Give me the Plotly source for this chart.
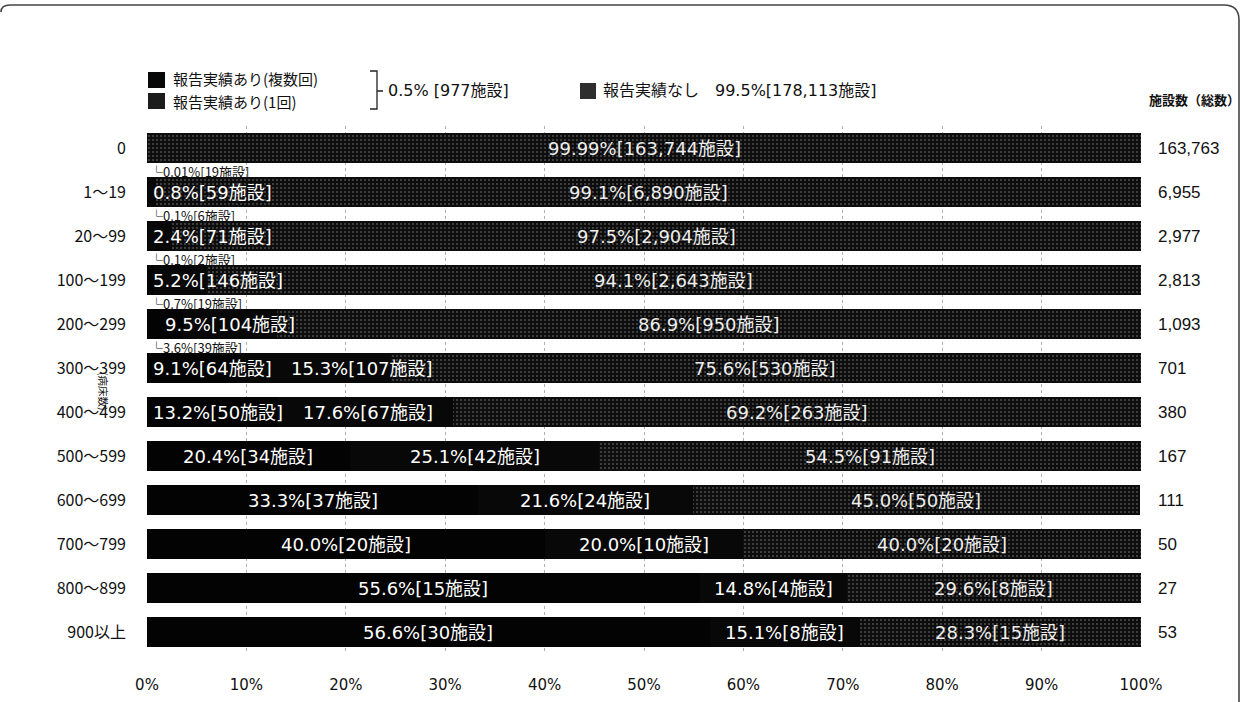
import plotly.graph_objects as go

# ---------------- data ----------------
categories = ["0", "1～19", "20～99", "100～199", "200～299", "300～399",
              "400～499", "500～599", "600～699", "700～799", "800～899", "900以上"]
multi_pct = [0.01, 0.1, 0.1, 0.7, 3.6, 9.1, 13.2, 20.4, 33.3, 40.0, 55.6, 56.6]
multi_n = [19, 6, 2, 19, 39, 64, 50, 34, 37, 20, 15, 30]
once_pct = [0, 0.8, 2.4, 5.2, 9.5, 15.3, 17.6, 25.1, 21.6, 20.0, 14.8, 15.1]
once_n = [0, 59, 71, 146, 104, 107, 67, 42, 24, 10, 4, 8]
none_pct = [99.99, 99.1, 97.5, 94.1, 86.9, 75.6, 69.2, 54.5, 45.0, 40.0, 29.6, 28.3]
none_n = [163744, 6890, 2904, 2643, 950, 530, 263, 91, 50, 20, 8, 15]
totals = [163763, 6955, 2977, 2813, 1093, 701, 380, 167, 111, 50, 27, 53]
x_ticks = [0, 10, 20, 30, 40, 50, 60, 70, 80, 90, 100]

# ---------------- geometry ----------------
W, H = 1242, 702
L, R, T, B = 147, 1141, 126, 654
PW, PH = R - L, B - T
FONT = "Noto Sans CJK JP"
MIX = "DejaVu Sans, Noto Sans CJK JP"


def PX(x):
    return (x - L) / PW


def PY(y):
    return (B - y) / PH


def fmt_pct(p):
    return ("%.2f" % p) if p < 0.1 or p == 99.99 else ("%.1f" % p)


def lab(p, n):
    return f"{fmt_pct(p)}%[{n:,}施設]"


def text_w(s, fs):
    w = 0
    for c in s:
        if ord(c) > 0x2000:
            w += fs
        elif c in ".,":
            w += 0.318 * fs
        elif c == "%":
            w += 0.95 * fs
        elif c in "[]":
            w += 0.39 * fs
        else:
            w += 0.636 * fs
    return w


fig = go.Figure()
fig.add_trace(go.Bar(y=categories, x=multi_pct, orientation="h", name="報告実績あり(複数回)",
                     marker=dict(color="#030303", line=dict(width=0))))
fig.add_trace(go.Bar(y=categories, x=once_pct, orientation="h", name="報告実績あり(1回)",
                     marker=dict(color="#080808", line=dict(width=0))))
fig.add_trace(go.Bar(y=categories, x=none_pct, orientation="h", name="報告実績なし",
                     marker=dict(color="#0d0d0d", line=dict(width=0),
                                 pattern=dict(shape=".", fgcolor="#9a9a9a", size=4, solidity=0.16))))

ann = []
FS = 18
for i, c in enumerate(categories):
    labels = []
    start = 0.0
    if multi_pct[i] < 5:
        ann.append(dict(x=0, y=c, xref="x", yref="y", text=f"└{lab(multi_pct[i], multi_n[i])}",
                        showarrow=False, xanchor="left", yanchor="middle", xshift=1, yshift=-23,
                        font=dict(family=FONT, size=13, color="#111")))
    else:
        labels.append((lab(multi_pct[i], multi_n[i]), start + multi_pct[i] / 2))
    start += multi_pct[i]
    if once_n[i] > 0:
        labels.append((lab(once_pct[i], once_n[i]), start + once_pct[i] / 2))
    start += once_pct[i]
    prev_right = None
    for txt, cx in labels:
        w = text_w(txt, FS)
        cpx = L + cx / 100 * PW
        bound = (L + 6) if prev_right is None else (prev_right + 20)
        left = max(cpx - w / 2, bound)
        prev_right = left + w
        ann.append(dict(x=(left + w / 2 - L) / PW * 100, y=c, xref="x", yref="y", text=txt,
                        showarrow=False, xanchor="center", yanchor="middle",
                        font=dict(family=MIX, size=FS, color="white")))
    ann.append(dict(x=start + none_pct[i] / 2, y=c, xref="x", yref="y",
                    text=lab(none_pct[i], none_n[i]), showarrow=False,
                    xanchor="center", yanchor="middle",
                    font=dict(family=MIX, size=FS, color="#eeeeee")))
    ann.append(dict(x=PX(1156), y=c, xref="paper", yref="y", text=f"{totals[i]:,}",
                    showarrow=False, xanchor="left", yanchor="middle",
                    font=dict(family="Liberation Sans", size=17, color="#111")))

# header / legend texts
ann += [
    dict(x=PX(1147), y=PY(99), xref="paper", yref="paper", text="<b>施設数（総数）</b>", showarrow=False,
         xanchor="left", yanchor="middle", font=dict(family=FONT, size=13, color="#111")),
    dict(x=PX(171), y=PY(79), xref="paper", yref="paper", text="報告実績あり(複数回)", showarrow=False,
         xanchor="left", yanchor="middle", font=dict(family=FONT, size=15, color="#111")),
    dict(x=PX(171), y=PY(101), xref="paper", yref="paper", text="報告実績あり(1回)", showarrow=False,
         xanchor="left", yanchor="middle", font=dict(family=FONT, size=15, color="#111")),
    dict(x=PX(386), y=PY(91), xref="paper", yref="paper", text="0.5% [977施設]", showarrow=False,
         xanchor="left", yanchor="middle", font=dict(family=MIX, size=16, color="#111")),
    dict(x=PX(601), y=PY(91), xref="paper", yref="paper", text="報告実績なし　99.5%[178,113施設]",
         showarrow=False, xanchor="left", yanchor="middle",
         font=dict(family=MIX, size=16, color="#111")),
    dict(x=PX(104), y=PY(391), xref="paper", yref="paper", text="(病床数)", showarrow=False,
         textangle=90, xanchor="center", yanchor="middle",
         font=dict(family=FONT, size=10.5, color="#111")),
]

shapes = [
    dict(type="rect", xref="paper", yref="paper", x0=PX(148), x1=PX(165), y0=PY(72), y1=PY(88),
         fillcolor="#080808", line=dict(width=0)),
    dict(type="rect", xref="paper", yref="paper", x0=PX(148), x1=PX(165), y0=PY(93), y1=PY(109),
         fillcolor="#1c1c1c", line=dict(width=0)),
    dict(type="rect", xref="paper", yref="paper", x0=PX(580), x1=PX(596), y0=PY(83), y1=PY(99),
         fillcolor="#2e2e2e", line=dict(width=0)),
    dict(type="path", xref="paper", yref="paper",
         path=(f"M {PX(370)},{PY(71)} L {PX(377)},{PY(71)} L {PX(377)},{PY(109)} L {PX(370)},{PY(109)} "
               f"M {PX(377)},{PY(91)} L {PX(383)},{PY(91)}"),
         line=dict(color="#222", width=1.3)),
    dict(type="path", xref="paper", yref="paper",
         path=(f"M {PX(1)},{PY(12)} Q {PX(1)},{PY(5)} {PX(10)},{PY(5)} L {PX(1224)},{PY(5)} "
               f"Q {PX(1239)},{PY(5)} {PX(1239)},{PY(20)} L {PX(1239)},{PY(702)}"),
         line=dict(color="#444", width=1.6)),
]

fig.update_layout(
    width=W, height=H,
    margin=dict(l=L, r=W - R, t=T, b=H - B),
    barmode="stack", bargap=0.32,
    showlegend=False,
    paper_bgcolor="white", plot_bgcolor="white",
    font=dict(family=FONT, color="#111"),
    annotations=ann, shapes=shapes,
    xaxis=dict(range=[0, 100], autorange=False, automargin=False,
               tickvals=x_ticks, ticktext=[f"{v}%" for v in x_ticks],
               showgrid=True, gridcolor="#b0b0b0", griddash="dot", gridwidth=1,
               zeroline=False, showline=False, ticks="", ticklabelstandoff=20,
               tickfont=dict(family="DejaVu Sans", size=15, color="#111")),
    yaxis=dict(categoryorder="array", categoryarray=categories,
               range=[len(categories) - 0.5, -0.5], autorange=False, automargin=False,
               showgrid=False, zeroline=False, showline=False, ticks="",
               ticklabelstandoff=20, tickfont=dict(family=FONT, size=16, color="#111")),
)

fig.write_html("out.html", config={"displayModeBar": False},
               post_script="document.body.style.margin='0px';")
